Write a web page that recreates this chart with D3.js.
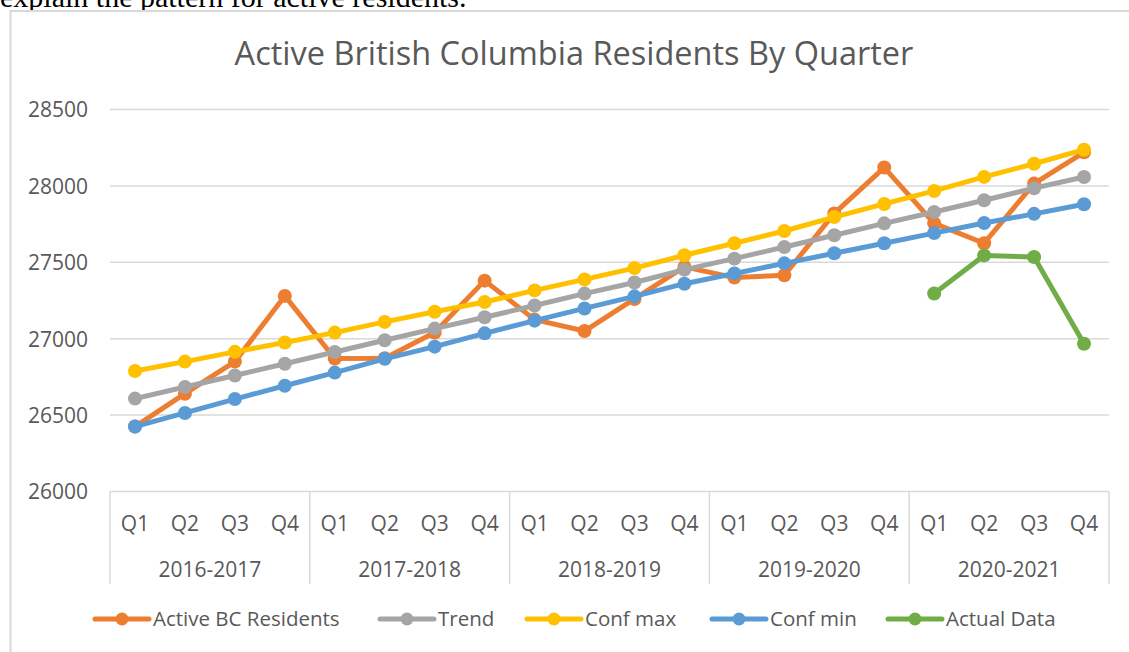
<!DOCTYPE html>
<html>
<head>
<meta charset="utf-8">
<script src="https://cdn.jsdelivr.net/npm/d3@7"></script>
<style>
  html, body { margin: 0; padding: 0; background: #fff; }
  svg { display: block; }
</style>
</head>
<body>
<svg id="chart" width="1129" height="652"></svg>
<script>
// ---- data ----
const years = ["2016-2017", "2017-2018", "2018-2019", "2019-2020", "2020-2021"];
const quarters = ["Q1", "Q2", "Q3", "Q4"];
const yTicks = [26000, 26500, 27000, 27500, 28000, 28500];

const activeBC = [26425, 26640, 26850, 27280, 26870, 26872, 27040, 27380, 27125, 27050,
                  27260, 27470, 27400, 27415, 27820, 28120, 27755, 27625, 28015, 28220];
const trend    = [26608, 26684, 26759, 26836, 26913, 26990, 27066, 27140, 27217, 27295,
                  27368, 27452, 27524, 27600, 27677, 27755, 27829, 27906, 27985, 28058];
const confMax  = [26789, 26850, 26914, 26975, 27040, 27110, 27176, 27240, 27316, 27388,
                  27462, 27546, 27625, 27705, 27796, 27882, 27967, 28059, 28145, 28237];
const confMin  = [26425, 26514, 26605, 26692, 26778, 26868, 26948, 27035, 27118, 27198,
                  27277, 27360, 27427, 27493, 27559, 27625, 27691, 27757, 27817, 27880];
const actual   = [null, null, null, null, null, null, null, null, null, null,
                  null, null, null, null, null, null, 27296, 27545, 27535, 26967];

const seriesNames  = ["Active BC Residents", "Trend", "Conf max", "Conf min", "Actual Data"];
const seriesColors = ["#ED7D31", "#A5A5A5", "#FFC000", "#5B9BD5", "#70AD47"];
const seriesValues = [activeBC, trend, confMax, confMin, actual];

// ---- layout ----
const svg = d3.select("#chart");
const plot = { left: 110, right: 1109, top: 109.5, bottom: 491.5 };
const textColor = "#595959";
const gridColor = "#D9D9D9";
const font = "'Open Sans', sans-serif";

const categories = [];
years.forEach(y => quarters.forEach(q => categories.push(y + "|" + q)));

const x = d3.scaleBand().domain(categories).range([plot.left, plot.right]).padding(0);
const y = d3.scaleLinear().domain([26000, 28500]).range([plot.bottom, plot.top]);
const cx = c => x(c) + x.bandwidth() / 2;

// top document text (partly above the page edge, as in the original screenshot)
svg.append("text")
  .attr("x", 0).attr("y", 7)
  .attr("font-family", "'Liberation Serif', 'Times New Roman', serif")
  .attr("font-size", 30)
  .attr("fill", "#000")
  .text("explain the pattern for active residents.");

// chart frame
svg.append("rect")
  .attr("x", 10.5).attr("y", 11)
  .attr("width", 1200).attr("height", 800)
  .attr("fill", "#fff")
  .attr("stroke", gridColor).attr("stroke-width", 2);

// title
svg.append("text")
  .attr("x", 574).attr("y", 65)
  .attr("text-anchor", "middle")
  .attr("font-family", font).attr("font-size", 32.5)
  .attr("fill", textColor)
  .text("Active British Columbia Residents By Quarter");

// gridlines
svg.append("g").selectAll("line").data(yTicks.slice(1)).join("line")
  .attr("x1", plot.left).attr("x2", plot.right)
  .attr("y1", d => y(d)).attr("y2", d => y(d))
  .attr("stroke", gridColor).attr("stroke-width", 1.5);

// y axis labels
const yAxis = d3.axisLeft(y).tickValues(yTicks).tickSize(0).tickPadding(0).tickFormat(d3.format("d"));
const yg = svg.append("g").attr("transform", `translate(88,0)`).call(yAxis);
yg.select(".domain").remove();
yg.selectAll("text").attr("font-family", font).attr("font-size", 21).attr("fill", textColor)
  .attr("dy", "0.35em");

// category axis: bottom line
svg.append("line")
  .attr("x1", plot.left).attr("x2", plot.right)
  .attr("y1", plot.bottom).attr("y2", plot.bottom)
  .attr("stroke", gridColor).attr("stroke-width", 1.5);

// group separators
const sepX = years.map((yr, i) => x(yr + "|Q1")).concat([plot.right]);
svg.append("g").selectAll("line").data(sepX).join("line")
  .attr("x1", d => d).attr("x2", d => d)
  .attr("y1", plot.bottom).attr("y2", 584)
  .attr("stroke", gridColor).attr("stroke-width", 1.5);

// quarter labels
svg.append("g").selectAll("text").data(categories).join("text")
  .attr("x", d => cx(d)).attr("y", 524)
  .attr("dy", "0.35em")
  .attr("text-anchor", "middle")
  .attr("font-family", font).attr("font-size", 21).attr("fill", textColor)
  .text(d => d.split("|")[1]);

// year labels
svg.append("g").selectAll("text").data(years).join("text")
  .attr("x", d => (x(d + "|Q1") + x(d + "|Q4") + x.bandwidth()) / 2).attr("y", 570)
  .attr("dy", "0.35em")
  .attr("text-anchor", "middle")
  .attr("font-family", font).attr("font-size", 21).attr("fill", textColor)
  .text(d => d);

// series
const line = d3.line()
  .defined(d => d.v != null)
  .x(d => cx(d.c)).y(d => y(d.v));

seriesValues.forEach((vals, si) => {
  const pts = vals.map((v, i) => ({ c: categories[i], v }));
  const g = svg.append("g");
  g.append("path").datum(pts)
    .attr("d", line)
    .attr("fill", "none")
    .attr("stroke", seriesColors[si])
    .attr("stroke-width", 5)
    .attr("stroke-linejoin", "round")
    .attr("stroke-linecap", "round");
  g.selectAll("circle").data(pts.filter(d => d.v != null)).join("circle")
    .attr("cx", d => cx(d.c)).attr("cy", d => y(d.v))
    .attr("r", 7)
    .attr("fill", seriesColors[si]);
});

// legend
const legendX = [95, 380, 527, 712, 888];
const legendY = 619;
const lg = svg.append("g");
seriesNames.forEach((name, i) => {
  const x0 = legendX[i];
  lg.append("line")
    .attr("x1", x0).attr("x2", x0 + 54)
    .attr("y1", legendY).attr("y2", legendY)
    .attr("stroke", seriesColors[i]).attr("stroke-width", 5)
    .attr("stroke-linecap", "round");
  lg.append("circle")
    .attr("cx", x0 + 27).attr("cy", legendY).attr("r", 6.5)
    .attr("fill", seriesColors[i]);
  lg.append("text")
    .attr("x", x0 + 58).attr("y", legendY)
    .attr("dy", "0.35em")
    .attr("font-family", font).attr("font-size", 20.5).attr("fill", textColor)
    .text(name);
});
</script>
</body>
</html>
